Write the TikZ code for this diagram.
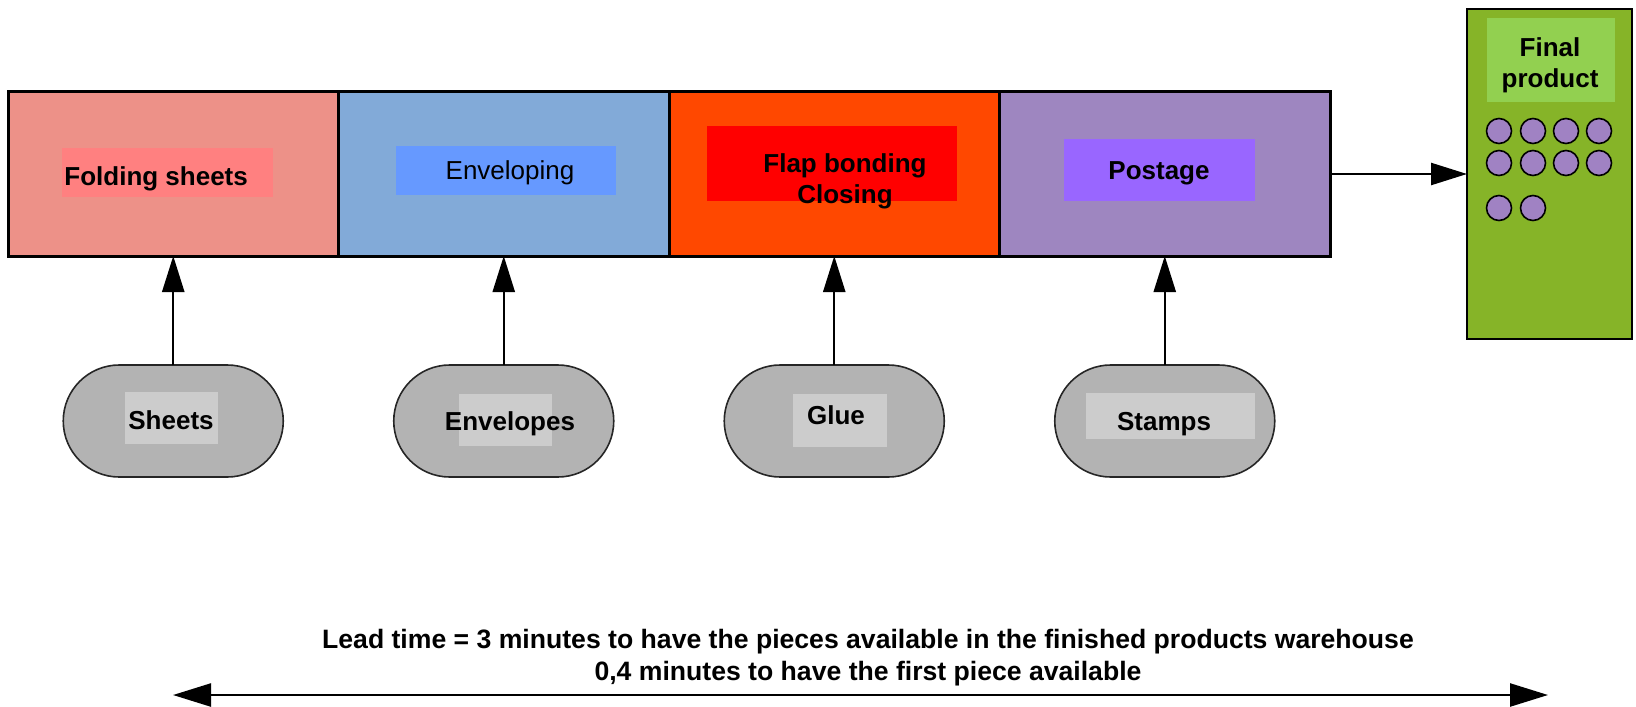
\documentclass[tikz,border=0pt]{standalone}
\usepackage{fontspec}
\setmainfont{Liberation Sans}
\usetikzlibrary{arrows.meta}
% stage colours (outer fill / label patch)
\definecolor{foldfill}{RGB}{237,145,136}
\definecolor{foldlab}{RGB}{255,128,128}
\definecolor{envfill}{RGB}{130,170,216}
\definecolor{envlab}{RGB}{102,153,255}
\definecolor{flapfill}{RGB}{255,72,0}
\definecolor{flaplab}{RGB}{255,0,0}
\definecolor{postfill}{RGB}{158,134,192}
\definecolor{postlab}{RGB}{153,102,255}
\definecolor{finfill}{RGB}{134,180,40}
\definecolor{finlab}{RGB}{146,208,80}
\definecolor{piece}{RGB}{160,130,195}
\definecolor{resfill}{RGB}{179,179,179}
\definecolor{reslab}{RGB}{204,204,204}

\begin{document}
\begin{tikzpicture}[x=0.5pt,y=-0.5pt,
  stage/.style={draw=black, line width=1.5pt, minimum width=165.25pt,
    minimum height=82pt, inner sep=0pt, outer sep=0pt},
  resource/.style={draw=black!85, line width=0.8pt, fill=resfill,
    rounded corners=28pt, minimum width=110pt, minimum height=56pt,
    inner sep=0pt, outer sep=0pt},
  lbl/.style={font=\fontsize{13}{15.5}\selectfont\bfseries, align=center, inner sep=0pt},
  feed/.style={line width=1.2pt, -{Triangle[length=18pt,width=11pt]}},
  piecedot/.style={circle, draw=black, line width=0.8pt, fill=piece,
    minimum size=12.5pt, inner sep=0pt}]

\useasboundingbox (0,0) rectangle (1636,706);

% production line: four consecutive stages
\node[stage, fill=foldfill] (fold) at (173.25,174) {};
\node[stage, fill=envfill]  (env)  at (503.75,174) {};
\node[stage, fill=flapfill] (flap) at (834.25,174) {};
\node[stage, fill=postfill] (post) at (1164.75,174) {};

% label patches inside the stages
\fill[foldlab] (62,148) rectangle (273,197);
\fill[envlab]  (396,146) rectangle (616,195);
\fill[flaplab] (707,126) rectangle (957,201);
\fill[postlab] (1064,139) rectangle (1255,201);

\node[lbl, anchor=base west] (foldtxt) at (64,185) {Folding sheets};
\node[lbl, font=\fontsize{13}{15.5}\selectfont, anchor=base] (envtxt) at (510,179) {Enveloping};
\node[lbl] (flaptxt) at (845,181) {Flap bonding\\Closing};
\node[lbl, anchor=base] (posttxt) at (1159,179) {Postage};

% finished products warehouse
\node[draw=black, line width=1pt, fill=finfill, minimum width=82.5pt,
  minimum height=165pt, inner sep=0pt, outer sep=0pt] (final) at (1549.5,174) {};
\fill[finlab] (1487,18) rectangle (1615,102);
\node[lbl] (fintxt) at (1550,65.5) {Final\\product};

\foreach \row/\y in {1/131,2/163}{
  \foreach \col/\x in {1/1499,2/1533,3/1566,4/1599}{
    \node[piecedot] (p\row\col) at (\x,\y) {};
  }
}
\node[piecedot] (p31) at (1499,208) {};
\node[piecedot] (p32) at (1533,208) {};

\draw[feed] (post.east) -- (final.west);

% input resources
\node[resource] (sheets)    at (173.25,421) {};
\node[resource] (envelopes) at (503.75,421) {};
\node[resource] (glue)      at (834.25,421) {};
\node[resource] (stamps)    at (1164.75,421) {};

\fill[reslab] (125,392) rectangle (218,444);
\fill[reslab] (459,394) rectangle (552,446);
\fill[reslab] (793,394) rectangle (887,447);
\fill[reslab] (1086,393) rectangle (1255,439);

\node[lbl, anchor=base] (sheetstxt) at (171,429) {Sheets};
\node[lbl, anchor=base] (envelopestxt) at (510,430) {Envelopes};
\node[lbl, anchor=base] (gluetxt) at (836,424) {Glue};
\node[lbl, anchor=base] (stampstxt) at (1164,430) {Stamps};

\draw[feed] (sheets.north) -- (fold.south);
\draw[feed] (envelopes.north) -- (env.south);
\draw[feed] (glue.north) -- (flap.south);
\draw[feed] (stamps.north) -- (post.south);

% lead time
\node[lbl, font=\fontsize{13.3}{16.2}\selectfont\bfseries] (leadtxt) at (868,657.5) {Lead time = 3 minutes to have the pieces available in the finished products warehouse\\0,4 minutes to have the first piece available};
\coordinate (leadL) at (173,695);
\coordinate (leadR) at (1548,695);
\draw[line width=1.2pt, {Triangle[length=19pt,width=11.5pt]}-{Triangle[length=19pt,width=11.5pt]}] (leadL) -- (leadR);
\end{tikzpicture}
\end{document}
